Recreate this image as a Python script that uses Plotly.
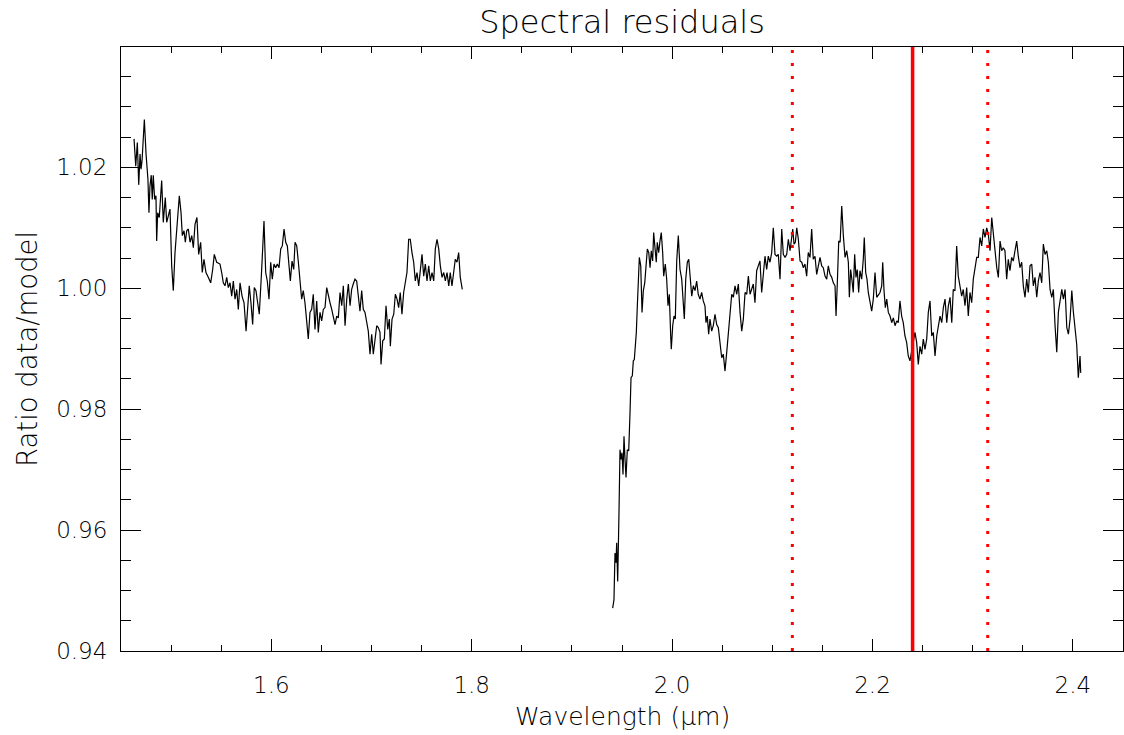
import plotly.graph_objects as go

# H-band residuals (wavelength in micron, ratio data/model)
wave_h = [
    1.4630, 1.4647, 1.4663, 1.4677, 1.4690, 1.4700, 1.4710, 1.4723, 1.4733, 1.4750,
    1.4769, 1.4779, 1.4789, 1.4802, 1.4812, 1.4822, 1.4836, 1.4849, 1.4856, 1.4866,
    1.4882, 1.4896, 1.4906, 1.4922, 1.4942, 1.4956, 1.4972, 1.4989, 1.5006, 1.5022,
    1.5039, 1.5062, 1.5082, 1.5099, 1.5112, 1.5129, 1.5142, 1.5156, 1.5172, 1.5189,
    1.5206, 1.5222, 1.5239, 1.5258, 1.5275, 1.5295, 1.5311, 1.5328, 1.5348, 1.5371,
    1.5395, 1.5415, 1.5431, 1.5455, 1.5488, 1.5505, 1.5521, 1.5538, 1.5555, 1.5571,
    1.5588, 1.5605, 1.5621, 1.5638, 1.5655, 1.5671, 1.5688, 1.5708, 1.5728, 1.5748,
    1.5764, 1.5780, 1.5797, 1.5814, 1.5830, 1.5847, 1.5864, 1.5880, 1.5904, 1.5927,
    1.5944, 1.5960, 1.5977, 1.5994, 1.6010, 1.6027, 1.6044, 1.6060, 1.6077, 1.6094,
    1.6110, 1.6127, 1.6144, 1.6160, 1.6177, 1.6190, 1.6207, 1.6224, 1.6237, 1.6254,
    1.6269, 1.6286, 1.6303, 1.6319, 1.6336, 1.6353, 1.6369, 1.6386, 1.6403, 1.6419,
    1.6436, 1.6453, 1.6469, 1.6486, 1.6503, 1.6519, 1.6536, 1.6553, 1.6569, 1.6586,
    1.6603, 1.6619, 1.6636, 1.6653, 1.6669, 1.6686, 1.6703, 1.6719, 1.6736, 1.6753,
    1.6769, 1.6786, 1.6802, 1.6818, 1.6835, 1.6852, 1.6868, 1.6885, 1.6902, 1.6918,
    1.6935, 1.6952, 1.6968, 1.6985, 1.7002, 1.7018, 1.7035, 1.7052, 1.7068, 1.7085,
    1.7095, 1.7112, 1.7128, 1.7145, 1.7162, 1.7178, 1.7188, 1.7205, 1.7222, 1.7238,
    1.7255, 1.7271, 1.7287, 1.7304, 1.7321, 1.7337, 1.7354, 1.7371, 1.7387, 1.7404,
    1.7421, 1.7437, 1.7454, 1.7471, 1.7487, 1.7504, 1.7521, 1.7537, 1.7554, 1.7571,
    1.7587, 1.7604, 1.7621, 1.7637, 1.7654, 1.7671, 1.7687, 1.7704, 1.7721, 1.7737,
    1.7754, 1.7771, 1.7786, 1.7803, 1.7820, 1.7836, 1.7853, 1.7870, 1.7886, 1.7906,
]
ratio_h = [
    1.0247, 1.0202, 1.0241, 1.0171, 1.0222, 1.0197, 1.0211, 1.0255, 1.0279, 1.0222,
    1.0180, 1.0125, 1.0169, 1.0187, 1.0147, 1.0187, 1.0147, 1.0153, 1.0078, 1.0125,
    1.0117, 1.0153, 1.0178, 1.0109, 1.0150, 1.0109, 1.0120, 1.0131, 1.0037, 0.9996,
    1.0059, 1.0114, 1.0153, 1.0125, 1.0087, 1.0095, 1.0076, 1.0095, 1.0098, 1.0076,
    1.0087, 1.0067, 1.0106, 1.0117, 1.0056, 1.0076, 1.0026, 1.0048, 1.0026, 1.0018,
    1.0009, 1.0031, 1.0056, 1.0043, 1.0040, 1.0026, 1.0009, 1.0004, 1.0018, 1.0001,
    1.0009, 0.9987, 1.0012, 0.9982, 0.9998, 0.9965, 1.0009, 0.9987, 0.9976, 0.9929,
    0.9974, 1.0004, 0.9976, 0.9940, 1.0001, 0.9996, 0.9976, 0.9957, 1.0031, 1.0111,
    1.0026, 1.0012, 0.9982, 1.0043, 1.0015, 1.0040, 1.0034, 1.0040, 1.0034, 1.0065,
    1.0070, 1.0098, 1.0076, 1.0070, 1.0037, 1.0012, 1.0045, 1.0031, 1.0076, 1.0070,
    1.0045, 1.0012, 0.9982, 0.9996, 0.9976, 0.9946, 0.9916, 0.9960, 0.9965, 0.9990,
    0.9932, 0.9979, 0.9927, 0.9960, 0.9946, 0.9965, 0.9968, 1.0001, 0.9987, 0.9976,
    0.9965, 0.9954, 0.9940, 0.9954, 0.9951, 0.9993, 0.9971, 1.0004, 0.9938, 0.9982,
    1.0007, 0.9971, 0.9998, 1.0007, 1.0015, 1.0012, 0.9982, 0.9962, 0.9996, 0.9965,
    0.9960, 0.9946, 0.9929, 0.9891, 0.9924, 0.9891, 0.9916, 0.9938, 0.9935, 0.9927,
    0.9874, 0.9913, 0.9916, 0.9971, 0.9932, 0.9949, 0.9904, 0.9949, 0.9957, 0.9990,
    0.9982, 0.9968, 0.9993, 0.9957, 0.9993, 1.0009, 1.0026, 1.0081, 1.0081, 1.0059,
    1.0043, 1.0012, 1.0026, 1.0004, 1.0026, 1.0056, 1.0020, 1.0040, 1.0012, 1.0037,
    1.0012, 1.0026, 1.0012, 1.0065, 1.0081, 1.0065, 1.0037, 1.0018, 1.0026, 1.0012,
    1.0026, 1.0004, 1.0026, 1.0004, 1.0026, 1.0048, 1.0043, 1.0059, 1.0018, 0.9998,
]

# K-band residuals
wave_k = [
    1.9407, 1.9420, 1.9430, 1.9440, 1.9447, 1.9457, 1.9470, 1.9480, 1.9490, 1.9500,
    1.9510, 1.9520, 1.9530, 1.9540, 1.9553, 1.9567, 1.9580, 1.9590, 1.9603, 1.9613,
    1.9623, 1.9633, 1.9643, 1.9653, 1.9663, 1.9673, 1.9687, 1.9700, 1.9713, 1.9727,
    1.9740, 1.9753, 1.9767, 1.9780, 1.9792, 1.9806, 1.9816, 1.9829, 1.9842, 1.9852,
    1.9866, 1.9879, 1.9892, 1.9906, 1.9916, 1.9932, 1.9946, 1.9959, 1.9972, 1.9986,
    1.9992, 2.0006, 2.0019, 2.0032, 2.0046, 2.0062, 2.0079, 2.0096, 2.0112, 2.0122,
    2.0136, 2.0152, 2.0166, 2.0179, 2.0196, 2.0212, 2.0229, 2.0245, 2.0261, 2.0278,
    2.0295, 2.0311, 2.0328, 2.0338, 2.0351, 2.0365, 2.0378, 2.0395, 2.0411, 2.0428,
    2.0445, 2.0461, 2.0478, 2.0495, 2.0511, 2.0528, 2.0545, 2.0561, 2.0578, 2.0595,
    2.0611, 2.0628, 2.0645, 2.0661, 2.0678, 2.0695, 2.0711, 2.0728, 2.0745, 2.0761,
    2.0778, 2.0794, 2.0810, 2.0827, 2.0844, 2.0860, 2.0877, 2.0894, 2.0910, 2.0927,
    2.0944, 2.0960, 2.0977, 2.0994, 2.1010, 2.1027, 2.1044, 2.1060, 2.1077, 2.1094,
    2.1110, 2.1127, 2.1144, 2.1160, 2.1177, 2.1194, 2.1204, 2.1217, 2.1230, 2.1244,
    2.1260, 2.1277, 2.1294, 2.1309, 2.1326, 2.1343, 2.1359, 2.1376, 2.1393, 2.1409,
    2.1426, 2.1443, 2.1459, 2.1476, 2.1493, 2.1509, 2.1526, 2.1543, 2.1559, 2.1576,
    2.1593, 2.1609, 2.1626, 2.1636, 2.1649, 2.1663, 2.1677, 2.1693, 2.1709, 2.1726,
    2.1743, 2.1759, 2.1769, 2.1782, 2.1796, 2.1808, 2.1822, 2.1835, 2.1848, 2.1862,
    2.1875, 2.1892, 2.1908, 2.1918, 2.1932, 2.1945, 2.1958, 2.1975, 2.1992, 2.2008,
    2.2025, 2.2042, 2.2058, 2.2075, 2.2092, 2.2102, 2.2115, 2.2128, 2.2142, 2.2158,
    2.2175, 2.2192, 2.2208, 2.2225, 2.2242, 2.2257, 2.2274, 2.2291, 2.2307, 2.2324,
    2.2341, 2.2357, 2.2374, 2.2424, 2.2441, 2.2457, 2.2474, 2.2491, 2.2507, 2.2524,
    2.2541, 2.2557, 2.2574, 2.2591, 2.2607, 2.2624, 2.2641, 2.2657, 2.2674, 2.2691,
    2.2707, 2.2724, 2.2741, 2.2757, 2.2774, 2.2791, 2.2806, 2.2823, 2.2840, 2.2856,
    2.2873, 2.2890, 2.2906, 2.2923, 2.2940, 2.2956, 2.2973, 2.2990, 2.3006, 2.3023,
    2.3040, 2.3056, 2.3073, 2.3090, 2.3106, 2.3123, 2.3140, 2.3156, 2.3173, 2.3190,
    2.3206, 2.3223, 2.3240, 2.3256, 2.3273, 2.3289, 2.3305, 2.3322, 2.3339, 2.3355,
    2.3372, 2.3389, 2.3405, 2.3422, 2.3439, 2.3455, 2.3472, 2.3489, 2.3505, 2.3522,
    2.3539, 2.3555, 2.3572, 2.3589, 2.3605, 2.3622, 2.3639, 2.3655, 2.3672, 2.3689,
    2.3705, 2.3722, 2.3739, 2.3755, 2.3772, 2.3789, 2.3805, 2.3822, 2.3839, 2.3855,
    2.3872, 2.3889, 2.3905, 2.3922, 2.3939, 2.3955, 2.3972, 2.3989, 2.4004, 2.4021,
    2.4038, 2.4054, 2.4071, 2.4078,
]
ratio_k = [
    0.9471, 0.9485, 0.9562, 0.9546, 0.9579, 0.9515, 0.9629, 0.9733, 0.9717, 0.9728,
    0.9692, 0.9755, 0.9717, 0.9687, 0.9733, 0.9731, 0.9794, 0.9852, 0.9855, 0.9880,
    0.9882, 0.9904, 0.9927, 0.9971, 1.0015, 1.0051, 1.0037, 0.9960, 0.9996, 1.0009,
    1.0037, 1.0065, 1.0059, 1.0034, 1.0062, 1.0045, 1.0092, 1.0067, 1.0043, 1.0076,
    1.0059, 1.0078, 1.0092, 1.0059, 1.0020, 1.0040, 1.0015, 0.9971, 0.9990, 0.9921,
    0.9899, 0.9938, 0.9954, 0.9949, 1.0045, 1.0087, 1.0031, 1.0015, 0.9976, 0.9949,
    1.0015, 1.0043, 1.0048, 1.0015, 0.9987, 1.0004, 0.9996, 1.0012, 0.9990, 0.9982,
    0.9993, 0.9979, 0.9971, 0.9943, 0.9954, 0.9924, 0.9949, 0.9929, 0.9938, 0.9957,
    0.9940, 0.9935, 0.9910, 0.9885, 0.9891, 0.9863, 0.9894, 0.9921, 0.9951, 0.9990,
    0.9985, 1.0004, 0.9990, 1.0007, 0.9960, 0.9929, 0.9949, 0.9993, 0.9990, 1.0020,
    0.9990, 1.0001, 1.0007, 0.9976, 1.0029, 1.0037, 1.0045, 0.9993, 1.0020, 1.0053,
    1.0031, 1.0053, 1.0043, 1.0059, 1.0100, 1.0056, 1.0053, 1.0056, 1.0015, 1.0098,
    1.0056, 1.0051, 1.0056, 1.0081, 1.0062, 1.0081, 1.0098, 1.0073, 1.0076, 1.0100,
    1.0081, 1.0045, 1.0043, 1.0034, 1.0040, 1.0020, 1.0059, 1.0051, 1.0098, 1.0048,
    1.0053, 1.0023, 1.0040, 1.0051, 1.0037, 1.0034, 1.0020, 1.0015, 1.0037, 1.0023,
    1.0018, 1.0009, 1.0004, 0.9954, 1.0009, 1.0078, 1.0076, 1.0136, 1.0087, 1.0051,
    1.0062, 1.0043, 0.9985, 1.0031, 1.0012, 0.9993, 1.0056, 1.0018, 1.0031, 0.9993,
    1.0029, 1.0015, 1.0048, 1.0084, 1.0026, 1.0015, 0.9993, 0.9979, 0.9962, 0.9982,
    1.0026, 0.9985, 0.9990, 0.9993, 1.0004, 1.0043, 0.9996, 0.9968, 0.9982, 0.9960,
    0.9954, 0.9943, 0.9951, 0.9938, 0.9946, 0.9943, 0.9979, 0.9954, 0.9943, 0.9921,
    0.9910, 0.9888, 0.9880, 0.9927, 0.9910, 0.9874, 0.9904, 0.9891, 0.9916, 0.9899,
    0.9916, 0.9960, 0.9979, 0.9921, 0.9927, 0.9888, 0.9921, 0.9935, 0.9954, 0.9943,
    0.9968, 0.9982, 0.9943, 0.9971, 0.9985, 0.9943, 0.9998, 0.9996, 1.0070, 1.0020,
    1.0004, 0.9987, 0.9998, 0.9971, 1.0001, 0.9954, 0.9993, 0.9976, 1.0015, 1.0037,
    1.0051, 1.0051, 1.0084, 1.0070, 1.0098, 1.0084, 1.0100, 1.0089, 1.0062, 1.0117,
    1.0087, 1.0062, 1.0034, 1.0018, 1.0078, 1.0062, 1.0067, 1.0062, 1.0015, 1.0048,
    1.0029, 1.0051, 1.0045, 1.0062, 1.0078, 1.0053, 1.0034, 1.0043, 1.0004, 0.9985,
    1.0015, 0.9993, 1.0037, 1.0040, 1.0004, 1.0018, 0.9985, 1.0012, 1.0026, 1.0009,
    1.0073, 1.0056, 1.0062, 1.0043, 0.9998, 0.9985, 0.9998, 0.9938, 0.9894, 0.9960,
    0.9982, 0.9998, 0.9982, 0.9998, 0.9935, 0.9924, 0.9949, 0.9996, 0.9962, 0.9929,
    0.9907, 0.9852, 0.9888, 0.9860,
]

# Marker wavelengths: solid line and the two dotted lines
line_solid = [2.24]
line_dotted = [2.12, 2.315]

# Axis ticks
x_tickvals = [1.6, 1.8, 2.0, 2.2, 2.4]
x_ticktext = ["1.6", "1.8", "2.0", "2.2", "2.4"]
y_tickvals = [0.94, 0.96, 0.98, 1.00, 1.02]
y_ticktext = ["0.94", "0.96", "0.98", "1.00", "1.02"]

FONT = "DejaVu Sans"
W, H = 1124, 735
ML, MR, MT, MB = 121, 1, 47, 84
PW, PH = W - ML - MR, H - MT - MB

fig = go.Figure()
for xs, ys in ((wave_h, ratio_h), (wave_k, ratio_k)):
    fig.add_trace(go.Scatter(
        x=xs, y=ys, mode="lines",
        line=dict(color="black", width=1.2),
        showlegend=False, hoverinfo="skip",
    ))

for w in line_solid:
    fig.add_shape(type="line", xref="x", yref="paper", x0=w, x1=w, y0=0, y1=1,
                  line=dict(color="#ff0000", width=3.5), layer="above")
for w in line_dotted:
    fig.add_shape(type="line", xref="x", yref="paper", x0=w, x1=w, y0=0, y1=1,
                  line=dict(color="#ff0000", width=3, dash="3px,10px"), layer="above")

axis_common = dict(
    showline=True, linecolor="black", linewidth=1, mirror="allticks",
    ticks="inside", tickcolor="black", tickwidth=1,
    showgrid=False, zeroline=False,
    tickfont=dict(family=FONT, size=23, color="black", weight=300),
)

fig.update_xaxes(
    range=[1.45, 2.45], tickmode="array", tickvals=x_tickvals, ticktext=x_ticktext,
    ticklen=12, ticklabelstandoff=13,
    minor=dict(dtick=0.05, tick0=1.45, ticks="inside", ticklen=6,
               tickcolor="black", tickwidth=1, showgrid=False),
    **axis_common,
)
fig.update_yaxes(
    range=[0.94, 1.0399], tickmode="array", tickvals=y_tickvals, ticktext=y_ticktext,
    ticklen=20, ticklabelstandoff=8,
    minor=dict(dtick=0.005, tick0=0.94, ticks="inside", ticklen=10,
               tickcolor="black", tickwidth=1, showgrid=False),
    **axis_common,
)

fig.update_layout(
    width=W, height=H,
    margin=dict(l=ML, r=MR, t=MT, b=MB, autoexpand=False),
    paper_bgcolor="white", plot_bgcolor="white",
    font=dict(family=FONT, color="black"),
    title=dict(text="Spectral residuals", x=0.5, xref="paper", xanchor="center",
               y=1 - 22 / H, yref="container", yanchor="middle",
               font=dict(family=FONT, size=32, color="black", weight=300)),
    annotations=[
        dict(text="Wavelength (μm)", xref="paper", yref="paper",
             x=0.5, y=-(716 - (MT + PH)) / PH, xanchor="center", yanchor="middle",
             showarrow=False,
             font=dict(family=FONT, size=25, color="black", weight=300)),
        dict(text="Ratio data/model", xref="paper", yref="paper",
             x=-(ML - 27) / PW, y=0.5, xanchor="center", yanchor="middle",
             textangle=-90, showarrow=False,
             font=dict(family=FONT, size=27.5, color="black", weight=300)),
    ],
)

fig.write_html("out.html")
